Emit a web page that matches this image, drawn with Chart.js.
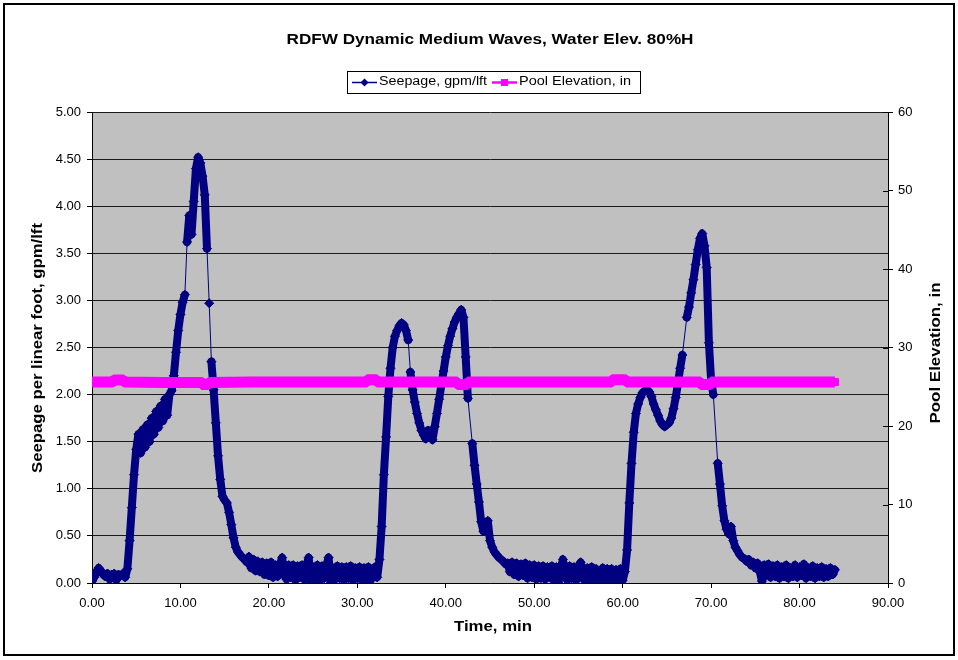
<!DOCTYPE html>
<html><head><meta charset="utf-8">
<script src="https://cdn.jsdelivr.net/npm/chart.js@4.4.1/dist/chart.umd.min.js"></script>
<style>html,body{margin:0;padding:0;background:#fff;}canvas{display:block;}</style>
</head><body>
<canvas id="c" width="958" height="660"></canvas>
<script>
const chartTitle = "RDFW Dynamic Medium Waves, Water Elev. 80%H";
const xTitle = "Time, min";
const yLeftTitle = "Seepage per linear foot, gpm/lft";
const yRightTitle = "Pool Elevation, in";
const seriesNames = ["Seepage, gpm/lft", "Pool Elevation, in"];

// seepage readings, gpm/lft, read every 0.25 min; each run is a densely logged stretch
// starting at the time in runStart; between runs the logger jumped (thin connector)
const sampleStepMin = 0.25;
const runStart = [0, 10.75, 13.25, 13.5, 36.0, 43.0, 67.25, 70.75];
const run1 = [0.02,0.06,0.12,0.16,0.13,0.09,0.07,0.10,0.04,0.09,0.10,0.03,0.09,0.08,0.10,0.06,
              0.15,0.45,0.80,1.15,1.42,1.58,
              1.38,1.63,1.44,1.68,1.50,1.75,1.58,1.82,1.65,1.88,1.72,1.95,1.78,2.00,
              2.04,2.20,2.45,2.68,2.85,2.98,3.06];
const run2 = [3.62,3.90,3.70,4.05,4.40,4.52,4.46,4.32,4.12,3.55];
const run3 = [2.97];
const run4 = [2.35,2.05,1.70,1.35,1.10,0.92,0.88,0.85,0.75,0.62,0.48,0.38,0.33,0.30,0.27,0.25,
              0.22,0.28,0.16,0.25,0.13,0.23,0.12,0.22,0.09,0.21,
              0.08,0.22,0.06,0.19,0.07,0.20,0.27,0.08,0.04,0.19,
              0.06,0.19,0.03,0.18,0.06,0.19,0.04,0.19,0.27,0.00,
              0.17,0.04,0.19,0.03,0.18,0.05,0.19,0.27,0.00,0.16,
              0.04,0.18,0.05,0.17,0.03,0.17,0.05,0.18,0.03,0.16,
              0.05,0.17,0.03,0.16,0.04,0.17,0.03,0.15,0.17,0.06,
              0.25,0.60,1.15,1.55,1.98,2.28,2.50,2.62,2.68,2.73,2.76,2.74,2.68,2.58];
const run5 = [2.24,2.05,1.92,1.80,1.70,1.62,1.57,1.53,1.62,1.56,1.52,1.66,1.80,1.95,2.10,2.25,
              2.40,2.52,2.62,2.70,2.77,2.82,2.86,2.90,2.82,2.40,1.96];
const run6 = [1.48,1.25,1.05,0.86,0.65,0.55,0.62,0.66,0.45,0.38,0.33,0.30,0.27,0.25,0.23,0.20,0.21,
              0.12,0.22,0.09,0.21,0.07,0.20,0.08,0.21,0.05,0.19,
              0.06,0.19,0.04,0.18,0.05,0.18,0.04,0.17,0.06,0.18,
              0.02,0.17,0.00,0.16,0.25,0.06,0.03,0.18,0.05,0.17,
              0.03,0.16,0.22,0.05,0.02,0.16,0.04,0.17,0.03,0.15,
              0.00,0.12,0.16,0.02,0.15,0.03,0.15,0.02,0.14,0.03,
              0.15,0.03,0.12,
              0.35,0.85,1.27,1.60,1.80,1.90,1.97,2.02,2.04,2.05,
              2.03,1.98,1.90,1.84,1.78,1.72,1.68,1.66,1.68,1.70,
              1.75,1.85,1.97,2.12,2.28,2.42];
const run7 = [2.82,2.93,3.08,3.22,3.38,3.54,3.66,3.71,3.58,3.35,2.55,2.15,2.00];
const run8 = [1.27,1.05,0.82,0.66,0.57,0.52,0.60,0.45,0.38,0.34,0.30,0.27,0.26,0.23,0.25,0.19,0.22,0.16,0.21,
              0.12,0.02,0.19,0.08,0.20,0.06,0.18,0.07,0.19,0.05,
              0.17,0.07,0.19,0.05,0.16,0.07,0.19,0.06,0.17,0.08,
              0.20,0.05,0.16,0.07,0.18,0.05,0.16,0.07,0.17,0.06,
              0.15,0.07,0.16,0.09,0.14];
const seepRuns = [run1, run2, run3, run4, run5, run6, run7, run8];

// pool elevation, in
const poolTime = [0,2.2,2.6,3.4,3.8,8,12.3,12.6,13.0,13.4,18,24,30.9,31.3,32.0,32.4,36,41.1,41.5,42.3,42.7,48,54,58.6,59.0,60.2,60.6,65,68.6,69.0,69.8,70.2,76,84.0];
const poolIn   = [25.6,25.6,25.85,25.85,25.6,25.55,25.55,25.3,25.3,25.55,25.6,25.6,25.6,25.9,25.9,25.6,25.6,25.6,25.3,25.3,25.6,25.6,25.6,25.6,25.9,25.9,25.6,25.6,25.6,25.3,25.3,25.6,25.6,25.6];

const xTicks = [0,10,20,30,40,50,60,70,80,90];

const seepPts = [];
const runEnds = new Set();
seepRuns.forEach((run, k) => {
  run.forEach((v, i) => seepPts.push({x: runStart[k] + i * sampleStepMin, y: v}));
  runEnds.add(seepPts.length - 1);
});
const poolPts = poolTime.map((t, i) => ({x: t, y: poolIn[i]}));

const NAVY = '#000080', MAG = '#FF00FF';
const FONT = '"Liberation Sans", Arial, sans-serif';

function stretchText(ctx, text, x, y, targetW, font, align, rot) {
  ctx.save();
  ctx.font = font;
  const w = ctx.measureText(text).width;
  ctx.translate(x, y);
  if (rot) ctx.rotate(rot);
  ctx.scale(targetW / w, 1);
  ctx.textAlign = align;
  ctx.textBaseline = 'middle';
  ctx.fillStyle = '#000';
  ctx.fillText(text, 0, 0);
  ctx.restore();
}

const framePlugin = {
  id: 'frame',
  beforeDraw(chart) {
    const ctx = chart.ctx, a = chart.chartArea;
    ctx.save();
    ctx.fillStyle = '#fff';
    ctx.fillRect(0, 0, chart.width, chart.height);
    ctx.fillStyle = '#C0C0C0';
    ctx.fillRect(a.left, a.top, a.right - a.left, a.bottom - a.top);
    ctx.restore();
  },
  afterDraw(chart) {
    const ctx = chart.ctx, a = chart.chartArea;
    ctx.save();
    ctx.strokeStyle = '#000';
    ctx.lineWidth = 2;
    ctx.strokeRect(4, 4, 950, 651);
    ctx.lineWidth = 1;
    const yr = chart.scales.yR;
    yr.ticks.forEach(t => {
      const y = Math.round(yr.getPixelForValue(t.value)) + 0.5;
      ctx.beginPath(); ctx.moveTo(a.right - 5, y); ctx.lineTo(a.right, y); ctx.stroke();
    });
    ctx.restore();
    stretchText(ctx, chartTitle, 490, 40, 407, 'bold 14px ' + FONT, 'center');
    stretchText(ctx, xTitle, 493, 627, 78, 'bold 14px ' + FONT, 'center');
    stretchText(ctx, yLeftTitle, 38, 348, 250, 'bold 14px ' + FONT, 'center', -Math.PI / 2);
    stretchText(ctx, yRightTitle, 936, 353, 141, 'bold 14px ' + FONT, 'center', -Math.PI / 2);
    ctx.save();
    ctx.strokeStyle = '#000'; ctx.lineWidth = 1;
    ctx.strokeRect(347.5, 71.5, 293, 22);
    const ly = 82.5;
    ctx.strokeStyle = NAVY; ctx.lineWidth = 1.5;
    ctx.beginPath(); ctx.moveTo(352, ly); ctx.lineTo(377, ly); ctx.stroke();
    ctx.fillStyle = NAVY;
    ctx.beginPath(); ctx.moveTo(364.5, ly - 4); ctx.lineTo(368.5, ly); ctx.lineTo(364.5, ly + 4); ctx.lineTo(360.5, ly); ctx.closePath(); ctx.fill();
    ctx.strokeStyle = MAG; ctx.lineWidth = 2.5;
    ctx.beginPath(); ctx.moveTo(492, ly); ctx.lineTo(517, ly); ctx.stroke();
    ctx.fillStyle = MAG;
    ctx.fillRect(501, ly - 3.5, 7, 7);
    ctx.restore();
    stretchText(ctx, seriesNames[0], 379, 82, 108, '12px ' + FONT, 'left');
    stretchText(ctx, seriesNames[1], 519, 82, 112, '12px ' + FONT, 'left');
  }
};

const tickFont = {family: FONT, size: 13};

new Chart(document.getElementById('c'), {
  type: 'scatter',
  data: {
    datasets: [
      {
        label: seriesNames[0], data: seepPts, yAxisID: 'yL', order: 2,
        showLine: true, borderColor: NAVY, borderWidth: 8,
        borderJoinStyle: 'round', borderCapStyle: 'round',
        segment: { borderWidth: c => runEnds.has(c.p0DataIndex) ? 1 : 8 },
        pointStyle: 'rectRot', pointRadius: 4.5, pointBackgroundColor: NAVY, pointBorderColor: NAVY, pointBorderWidth: 1
      },
      {
        label: seriesNames[1], data: poolPts, yAxisID: 'yR', order: 1,
        showLine: true, borderColor: MAG, borderWidth: 11,
        pointStyle: 'rect', pointRadius: 5, pointBackgroundColor: MAG, pointBorderColor: MAG, pointBorderWidth: 1
      }
    ]
  },
  options: {
    responsive: false, animation: false, devicePixelRatio: 1,
    layout: {padding: {top: 112, left: 0, right: 0, bottom: 0}},
    plugins: {legend: {display: false}, title: {display: false}, tooltip: {enabled: false}},
    scales: {
      x: {
        type: 'linear', position: 'bottom', min: 0, max: 90,
        afterBuildTicks: s => { s.ticks = xTicks.map(v => ({value: v})); },
        afterFit: s => { s.height = 77; },
        grid: {drawOnChartArea: false, drawTicks: true, tickLength: 5, color: '#000', tickColor: '#000'},
        border: {display: true, color: '#000', width: 1},
        ticks: {color: '#000', font: tickFont, padding: 8, autoSkip: false, maxRotation: 0, callback: v => Number(v).toFixed(2)}
      },
      yL: {
        type: 'linear', position: 'left', min: 0, max: 5,
        afterFit: s => { s.width = 92; },
        grid: {drawOnChartArea: true, drawTicks: true, tickLength: 5, color: '#1a1a1a', tickColor: '#000'},
        border: {display: true, color: '#000', width: 1},
        ticks: {stepSize: 0.5, color: '#000', font: tickFont, padding: 6, callback: v => Number(v).toFixed(2)}
      },
      yR: {
        type: 'linear', position: 'right', min: 0, max: 60,
        afterFit: s => { s.width = 70; },
        grid: {drawOnChartArea: false, drawTicks: true, tickLength: 5, color: '#000', tickColor: '#000'},
        border: {display: true, color: '#000', width: 1},
        ticks: {stepSize: 10, color: '#000', font: tickFont, padding: 5, callback: v => String(v)}
      }
    }
  },
  plugins: [framePlugin]
});
</script>
</body></html>
